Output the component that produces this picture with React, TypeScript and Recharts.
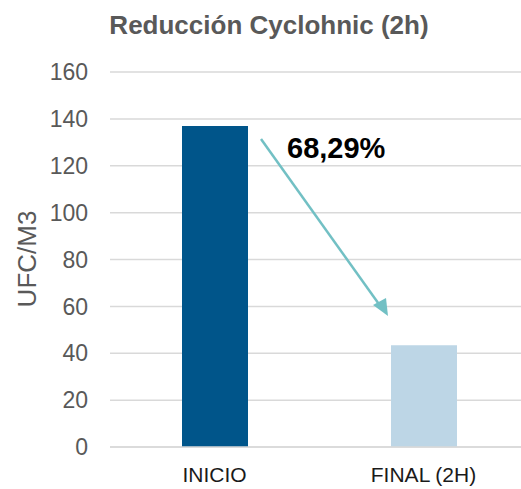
import React from "react";
import { BarChart, Bar, XAxis, YAxis, CartesianGrid, Cell, Customized } from "recharts";

const categories = ["INICIO", "FINAL (2H)"];
const ufcValues = [137, 43.4];
const barColors = ["#00558a", "#bdd6e6"];
const yTicks = [0, 20, 40, 60, 80, 100, 120, 140, 160];
const reductionLabel = "68,29%";

const data = categories.map((name, i) => ({ name, ufc: ufcValues[i] }));

const FONT = "'Liberation Sans', Arial, sans-serif";

// annotation: arrow from the first bar down to the second one, with the reduction text
const Arrow = () => (
  <g>
    <line x1={261} y1={139} x2={381} y2={307} stroke="#72c0c4" strokeWidth={2.5} />
    <path d="M373,305 L388,316 L386,298 Z" fill="#72c0c4" />
    <text x={287} y={158} fontFamily={FONT} fontSize={29} fontWeight="bold" fill="#000">
      {reductionLabel}
    </text>
  </g>
);

export default function App() {
  return (
    <div style={{ position: "absolute", left: 0, top: 0, width: 521, height: 489, overflow: "hidden", background: "#fff" }}>
      <BarChart width={530} height={489} data={data} margin={{ top: 72, right: 2, left: 0, bottom: 0 }}>
        <text x={269} y={34} textAnchor="middle" fontFamily={FONT} fontSize={26} fontWeight="bold" fill="#595959">
          Reducción Cyclohnic (2h)
        </text>
        <text
          x={27}
          y={259}
          transform="rotate(-90 27 259)"
          textAnchor="middle"
          dominantBaseline="central"
          fontFamily={FONT}
          fontSize={26}
          fill="#595959"
        >
          UFC/M3
        </text>
        <CartesianGrid vertical={false} stroke="#d9d9d9" strokeWidth={1.5} />
        <XAxis
          dataKey="name"
          height={42}
          axisLine={{ stroke: "#d9d9d9", strokeWidth: 1.5 }}
          tickLine={false}
          tickSize={0}
          tickMargin={20}
          tick={{ fontFamily: FONT, fontSize: 21, fill: "#1a1a1a" }}
        />
        <YAxis
          width={110}
          domain={[0, 160]}
          ticks={yTicks}
          axisLine={false}
          tickLine={false}
          tickSize={0}
          tickMargin={22}
          tick={{ fontFamily: FONT, fontSize: 23, fill: "#595959" }}
        />
        <Bar dataKey="ufc" barSize={66} isAnimationActive={false}>
          {data.map((d, i) => (
            <Cell key={d.name} fill={barColors[i]} />
          ))}
        </Bar>
        <Customized component={Arrow} />
      </BarChart>
    </div>
  );
}
